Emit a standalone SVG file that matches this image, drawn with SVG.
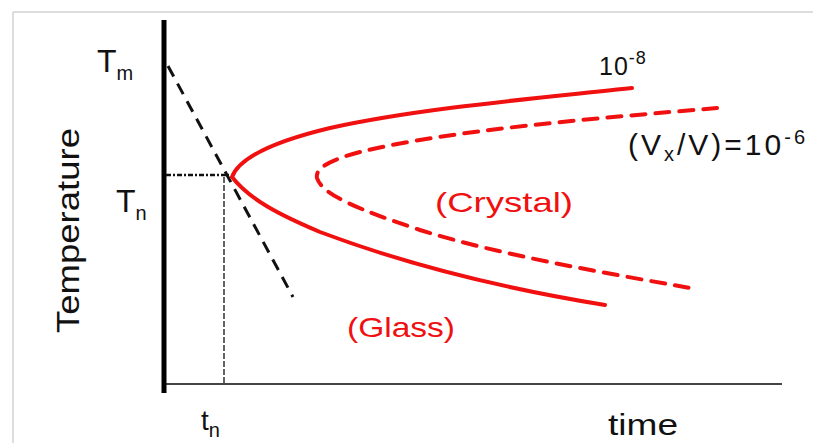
<svg xmlns="http://www.w3.org/2000/svg" width="813" height="443" viewBox="0 0 813 443">
<style>
.lbl{font-family:"Liberation Sans","DejaVu Sans",sans-serif;fill:#111}
.red{font-family:"Liberation Sans","DejaVu Sans",sans-serif;fill:#f01010}
.curve{fill:none;stroke:#f01010;stroke-width:4;stroke-linecap:round}
.dash{stroke-dasharray:14 10}
</style>
<rect x="0" y="0" width="813" height="443" fill="#fff"/>
<g id="frame">
<line x1="13" y1="12" x2="813" y2="12" stroke="#ddd" stroke-width="2"/>
<line x1="13" y1="12" x2="13" y2="443" stroke="#ddd" stroke-width="2"/>
</g>
<g id="axes">
<line x1="164" y1="384" x2="782" y2="384" stroke="#444" stroke-width="2"/>
<line x1="164" y1="20" x2="164" y2="393" stroke="#000" stroke-width="5"/>
</g>
<g id="connectors">
<line x1="168" y1="66" x2="293" y2="297" stroke="#111" stroke-width="3" stroke-dasharray="12 8"/>
<line x1="166" y1="175" x2="229" y2="175" stroke="#111" stroke-width="2.5" stroke-dasharray="5 2 2 2"/>
<line x1="224" y1="177" x2="224" y2="383" stroke="#111" stroke-width="1.3" stroke-dasharray="6 2"/>
</g>
<g id="curve-1e-8">
<path class="curve" d="M 632 88 C 540 98, 420 108, 330 128 C 280 140, 240 156, 232 177 C 250 200, 280 215, 320 232 C 400 262, 500 288, 605 305"/>
</g>
<g id="curve-1e-6">
<path class="curve dash" d="M 717 108 C 600 118, 450 130, 360 152 C 330 160, 315 168, 317 178 C 322 195, 360 210, 420 230 C 500 255, 600 272, 690 288"/>
</g>
<g id="labels">
<text class="lbl" x="97" y="72" font-size="32">T<tspan font-size="20" dy="8">m</tspan></text>
<text class="lbl" x="116" y="212" font-size="32">T<tspan font-size="20" dy="8">n</tspan></text>
<text class="lbl" x="201" y="430" font-size="28">t<tspan font-size="20" dy="7">n</tspan></text>
<text class="lbl" font-size="31" transform="translate(79,333) rotate(-90)" textLength="205" lengthAdjust="spacingAndGlyphs">Temperature</text>
<text class="lbl" x="608" y="435" font-size="29" textLength="70" lengthAdjust="spacingAndGlyphs">time</text>
<text class="lbl" x="599" y="75" font-size="25" letter-spacing="1">10<tspan font-size="18" dy="-11">-8</tspan></text>
<text class="lbl" x="628" y="155" font-size="30" letter-spacing="3">(V<tspan font-size="20" dy="6">x</tspan><tspan dy="-6">/V)=10</tspan><tspan font-size="20" dy="-11">-6</tspan></text>
<text class="red" x="435" y="212" font-size="28" textLength="138" lengthAdjust="spacingAndGlyphs">(Crystal)</text>
<text class="red" x="347" y="337" font-size="28" textLength="108" lengthAdjust="spacingAndGlyphs">(Glass)</text>
</g>
</svg>
